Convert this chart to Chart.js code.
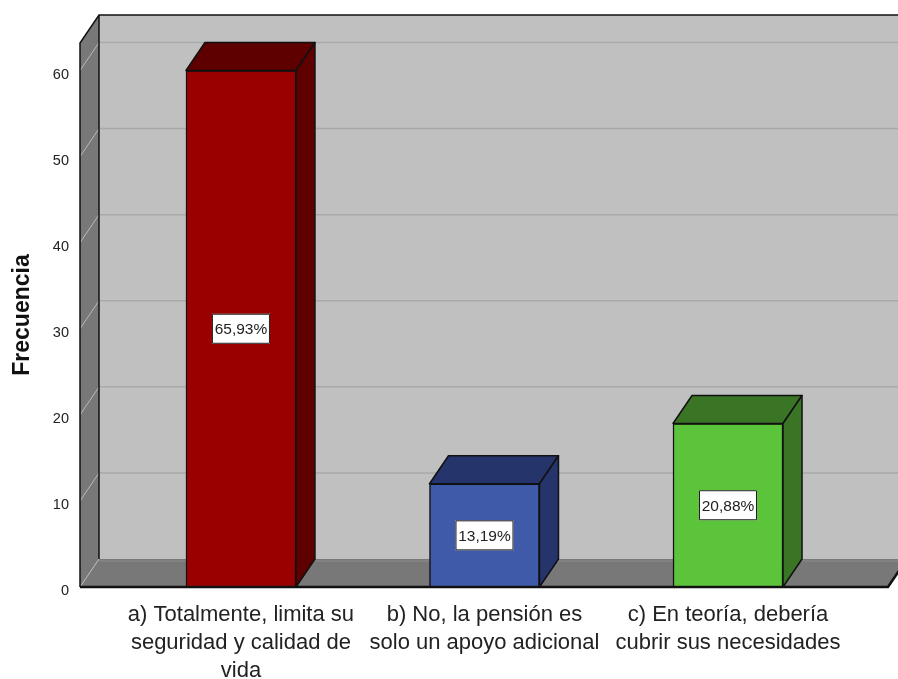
<!DOCTYPE html>
<html>
<head>
<meta charset="utf-8">
<script src="https://cdn.jsdelivr.net/npm/chart.js@4/dist/chart.umd.min.js"></script>
<style>
  html, body { margin: 0; padding: 0; background: #fff; }
  canvas { display: block; }
</style>
</head>
<body>
<canvas id="chart" width="898" height="679"></canvas>
<script>
// Frecuencia por respuesta (3D bar chart, SPSS style)
const categories = [
    ['a) Totalmente, limita su', 'seguridad y calidad de', 'vida'],
    ['b) No, la pensión es', 'solo un apoyo adicional'],
    ['c) En teoría, debería', 'cubrir sus necesidades']
];
const frequencies = [60, 12, 19];
const percentLabels = ['65,93%', '13,19%', '20,88%'];
const yTicks = [0, 10, 20, 30, 40, 50, 60];

const frontColors = ['#990000', '#3e5aa8', '#5cc43a'];
const shadeColors = ['#5e0000', '#26346c', '#3a7526'];

const FONT = "'Liberation Sans', Arial, sans-serif";
const DX = 19, DY = -28;   // depth offset of the 3D box

function line(ctx, pts) {
    ctx.beginPath();
    ctx.moveTo(pts[0][0], pts[0][1]);
    for (let i = 1; i < pts.length; i++) ctx.lineTo(pts[i][0], pts[i][1]);
}

// Walls, floor and gridlines behind the bars
const box3d = {
    id: 'box3d',
    beforeDatasetsDraw(chart) {
        const { ctx, chartArea: a, scales: { y } } = chart;
        const W = chart.width;
        ctx.save();

        // back wall
        ctx.fillStyle = '#c0c0c0';
        ctx.fillRect(a.left + DX, a.top + DY, W - a.left - DX, a.bottom - a.top);

        // gridlines on back wall
        ctx.strokeStyle = '#a9a9a9';
        ctx.lineWidth = 1.5;
        yTicks.forEach(v => {
            if (v === 0) return;
            const yy = y.getPixelForValue(v) + DY;
            line(ctx, [[a.left + DX, yy], [W, yy]]);
            ctx.stroke();
        });

        // side wall
        ctx.fillStyle = '#787878';
        line(ctx, [[a.left, a.top], [a.left + DX, a.top + DY], [a.left + DX, a.bottom + DY], [a.left, a.bottom]]);
        ctx.closePath();
        ctx.fill();

        // floor
        line(ctx, [[a.left, a.bottom], [a.right, a.bottom], [a.right + DX, a.bottom + DY], [a.left + DX, a.bottom + DY]]);
        ctx.closePath();
        ctx.fill();
        ctx.strokeStyle = '#8c8c8c';
        ctx.lineWidth = 1;
        line(ctx, [[a.left + DX, a.bottom + DY + 2], [W, a.bottom + DY + 2]]);
        ctx.stroke();

        // tick diagonals on side wall
        ctx.strokeStyle = '#b8b8b8';
        ctx.lineWidth = 1;
        yTicks.forEach(v => {
            const yy = y.getPixelForValue(v);
            line(ctx, [[a.left, yy], [a.left + DX, yy + DY]]);
            ctx.stroke();
        });

        // edges
        ctx.strokeStyle = '#111';
        ctx.lineWidth = 1.5;
        line(ctx, [[a.left, a.bottom], [a.left, a.top], [a.left + DX, a.top + DY], [W, a.top + DY]]);
        ctx.stroke();
        line(ctx, [[a.left + DX, a.top + DY], [a.left + DX, a.bottom + DY]]);
        ctx.stroke();
        ctx.lineWidth = 2.5;
        line(ctx, [[a.left, a.bottom], [a.right, a.bottom], [a.right + DX, a.bottom + DY]]);
        ctx.stroke();

        ctx.restore();
    },
    afterDatasetsDraw(chart) {
        const { ctx } = chart;
        const meta = chart.getDatasetMeta(0);
        ctx.save();
        ctx.lineJoin = 'round';
        meta.data.forEach((el, i) => {
            const x0 = el.x - el.width / 2, x1 = el.x + el.width / 2;
            const top = el.y, bot = el.base;
            ctx.fillStyle = shadeColors[i];
            ctx.strokeStyle = '#111';
            ctx.lineWidth = 1.5;
            // top face
            line(ctx, [[x0, top], [x0 + DX, top + DY], [x1 + DX, top + DY], [x1, top]]);
            ctx.closePath();
            ctx.fill();
            ctx.stroke();
            // side face
            line(ctx, [[x1, top], [x1 + DX, top + DY], [x1 + DX, bot + DY], [x1, bot]]);
            ctx.closePath();
            ctx.fill();
            ctx.stroke();

            // percentage label
            const cy = (top + bot) / 2;
            const bw = 58, bh = 30;
            ctx.fillStyle = '#fff';
            ctx.fillRect(el.x - bw / 2, cy - bh / 2, bw, bh);
            ctx.lineWidth = 1;
            ctx.strokeStyle = '#222';
            ctx.strokeRect(el.x - bw / 2 + 0.5, cy - bh / 2 + 0.5, bw - 1, bh - 1);
            ctx.fillStyle = '#222';
            ctx.font = '15.5px ' + FONT;
            ctx.textAlign = 'center';
            ctx.textBaseline = 'middle';
            ctx.fillText(percentLabels[i], el.x, cy + 1);
        });
        ctx.restore();
    }
};

new Chart(document.getElementById('chart'), {
    type: 'bar',
    data: {
        datasets: [{
            data: frequencies.map((f, i) => ({ x: i, y: f })),
            backgroundColor: frontColors,
            borderColor: '#111',
            borderWidth: 1.5,
            borderSkipped: false,
            barThickness: 110,
        }]
    },
    options: {
        responsive: false,
        animation: false,
        layout: { padding: { top: 43, right: 10, left: 0, bottom: 0 } },
        plugins: {
            legend: { display: false },
            tooltip: { enabled: false }
        },
        scales: {
            x: {
                type: 'linear',
                min: -0.661,
                max: 2.657,
                offset: false,
                grid: { display: false, drawTicks: false, offset: false },
                border: { display: false },
                afterBuildTicks: (s) => { s.ticks = categories.map((c, i) => ({ value: i })); },
                afterFit: (s) => { s.height = 92; },
                ticks: {
                    callback: (v) => categories[v],
                    autoSkip: false,
                    maxRotation: 0,
                    padding: 14,
                    color: '#222',
                    font: { family: FONT, size: 22, lineHeight: 1.27 }
                }
            },
            y: {
                min: 0,
                max: 63.2,
                grid: { display: false, drawTicks: false },
                border: { display: false },
                afterBuildTicks: (s) => { s.ticks = yTicks.map(v => ({ value: v })); },
                afterFit: (s) => { s.width = 80; },
                ticks: {
                    padding: 11,
                    labelOffset: 4,
                    color: '#222',
                    font: { family: FONT, size: 14.5 }
                },
                title: {
                    display: true,
                    text: 'Frecuencia',
                    color: '#111',
                    padding: { top: 9, bottom: 0 },
                    font: { family: FONT, size: 23, weight: 'bold' }
                }
            }
        }
    },
    plugins: [box3d]
});
</script>
</body>
</html>
